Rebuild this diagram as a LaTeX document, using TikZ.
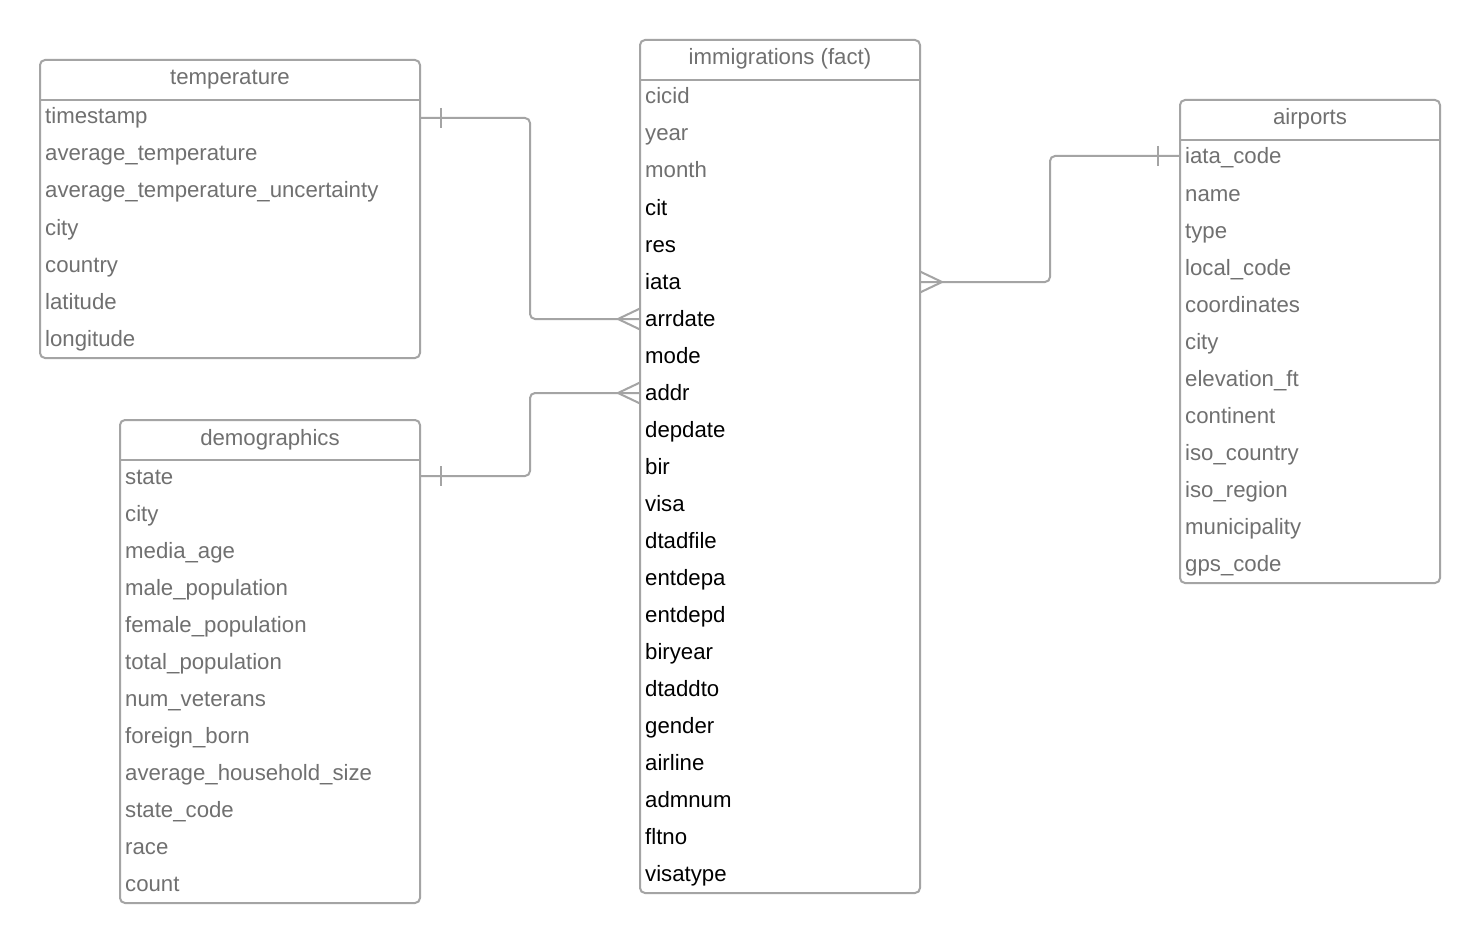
\documentclass[tikz,border=0pt]{standalone}
\usepackage{fontspec}
\setmainfont{Liberation Sans}
\usetikzlibrary{calc}
\definecolor{linegray}{HTML}{A4A4A4}
\definecolor{txtgray}{HTML}{707070}
\tikzset{
  tablebox/.style={draw=linegray, line width=2pt, rounded corners=5pt, fill=white, anchor=north west, inner sep=0pt, outer sep=0pt},
  sepline/.style={draw=linegray, line width=2pt},
  conn/.style={draw=linegray, line width=2pt, rounded corners=5pt},
  mark line/.style={draw=linegray, line width=2pt},
  headtext/.style={anchor=base, inner sep=0pt, text=txtgray, font=\fontsize{22.2}{26}\selectfont},
  rowgray/.style={anchor=base west, inner sep=0pt, text=txtgray, font=\fontsize{22.2}{26}\selectfont},
  rowblack/.style={anchor=base west, inner sep=0pt, text=black, font=\fontsize{22.2}{26}\selectfont},
}
\begin{document}
\begin{tikzpicture}[x=1pt,y=-1pt]
\useasboundingbox[fill=white] (0,0) rectangle (1480,944);

% temperature
\node[tablebox, minimum width=380pt, minimum height=298pt] (temp) at (40,60) {};
\draw[sepline] ($(temp.north west)+(0,40)$) -- ($(temp.north east)+(0,40)$);
\node[headtext] (temph) at ($(temp.north)+(0,25)$) {temperature};
\foreach \t [count=\i from 0] in {timestamp,average\_temperature,average\_temperature\_uncertainty,city,country,latitude,longitude}
  \node[rowgray] (temp-\i) at (45,{124+37*\i}) {\t};

% demographics
\node[tablebox, minimum width=300pt, minimum height=483pt] (demo) at (120,420) {};
\draw[sepline] ($(demo.north west)+(0,40)$) -- ($(demo.north east)+(0,40)$);
\node[headtext] (demoh) at ($(demo.north)+(0,25)$) {demographics};
\foreach \t [count=\i from 0] in {state,city,media\_age,male\_population,female\_population,total\_population,num\_veterans,foreign\_born,average\_household\_size,state\_code,race,count}
  \node[rowgray] (demo-\i) at (125,{484+37*\i}) {\t};

% immigrations
\node[tablebox, minimum width=280pt, minimum height=853pt] (imm) at (640,40) {};
\draw[sepline] ($(imm.north west)+(0,40)$) -- ($(imm.north east)+(0,40)$);
\node[headtext] (immh) at ($(imm.north)+(0,25)$) {immigrations (fact)};
\foreach \t [count=\i from 0] in {cicid,year,month}
  \node[rowgray] (imm-\i) at (645,{104+37*\i}) {\t};
\foreach \t [count=\i from 3] in {cit,res,iata,arrdate,mode,addr,depdate,bir,visa,dtadfile,entdepa,entdepd,biryear,dtaddto,gender,airline,admnum,fltno,visatype}
  \node[rowblack] (imm-\i) at (645,{104+37*\i}) {\t};

% airports
\node[tablebox, minimum width=260pt, minimum height=483pt] (air) at (1180,100) {};
\draw[sepline] ($(air.north west)+(0,40)$) -- ($(air.north east)+(0,40)$);
\node[headtext] (airh) at ($(air.north)+(0,25)$) {airports};
\foreach \t [count=\i from 0] in {iata\_code,name,type,local\_code,coordinates,city,elevation\_ft,continent,iso\_country,iso\_region,municipality,gps\_code}
  \node[rowgray] (air-\i) at (1185,{164+37*\i}) {\t};

% connector end points
\coordinate (tA) at (temp.east |- 0,118);
\coordinate (iA) at (imm.west |- 0,319);
\coordinate (dB) at (demo.east |- 0,476);
\coordinate (iB) at (imm.west |- 0,393);
\coordinate (iC) at (imm.east |- 0,282);
\coordinate (aC) at (air.west |- 0,156);

% temperature -> immigrations
\draw[conn] (tA) -| ($(tA)!0.5!(iA)$) |- (iA);
\draw[mark line] ($(tA)+(21,-10)$) -- ($(tA)+(21,10)$);
\draw[mark line] ($(iA)+(-22,0)$) -- ($(iA)+(0,-10.5)$);
\draw[mark line] ($(iA)+(-22,0)$) -- ($(iA)+(0,10.5)$);

% demographics -> immigrations
\draw[conn] (dB) -| ($(dB)!0.5!(iB)$) |- (iB);
\draw[mark line] ($(dB)+(21,-10)$) -- ($(dB)+(21,10)$);
\draw[mark line] ($(iB)+(-22,0)$) -- ($(iB)+(0,-10.5)$);
\draw[mark line] ($(iB)+(-22,0)$) -- ($(iB)+(0,10.5)$);

% airports -> immigrations
\draw[conn] (iC) -| ($(iC)!0.5!(aC)$) |- (aC);
\draw[mark line] ($(aC)+(-22,-10)$) -- ($(aC)+(-22,10)$);
\draw[mark line] ($(iC)+(22,0)$) -- ($(iC)+(0,-10.5)$);
\draw[mark line] ($(iC)+(22,0)$) -- ($(iC)+(0,10.5)$);
\end{tikzpicture}
\end{document}
